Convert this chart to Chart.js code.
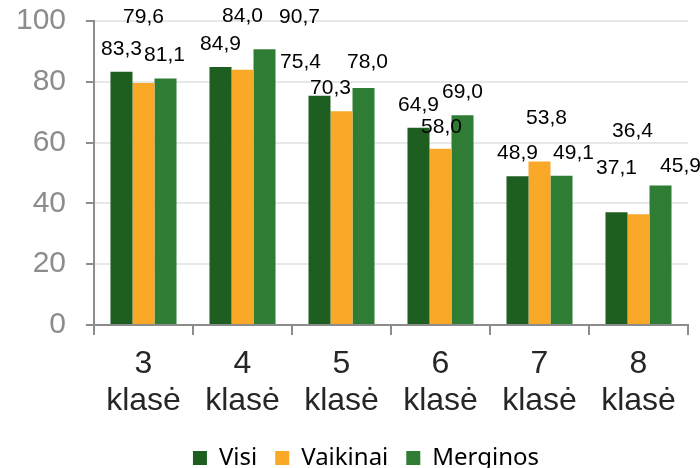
<!DOCTYPE html>
<html>
<head>
<meta charset="utf-8">
<script src="https://cdn.jsdelivr.net/npm/chart.js@4"></script>
<style>
  body { margin: 0; background: #fff; }
  #wrap { width: 700px; height: 468px; }
</style>
</head>
<body>
<div id="wrap"><canvas id="myChart" width="700" height="468"></canvas></div>
<script>
// categories and values
const klases = [['3', 'klasė'], ['4', 'klasė'], ['5', 'klasė'], ['6', 'klasė'], ['7', 'klasė'], ['8', 'klasė']];
const visi = [83.3, 84.9, 75.4, 64.9, 48.9, 37.1];
const vaikinai = [79.6, 84.0, 70.3, 58.0, 53.8, 36.4];
const merginos = [81.1, 90.7, 78.0, 69.0, 49.1, 45.9];
const yTicks = [0, 20, 40, 60, 80, 100];

// labels were moved by hand in the original, so keep those shifts (px) here
const labelShift = [
    [[0, 0], [0, 0], [-19, -11], [0, 0], [0, 0], [0, -21]],
    [[0, -43], [0, -30], [-11, 0], [1, 2], [7, -20], [-6, -60]],
    [[-1, 0], [35, -9], [4, -3], [0, 0], [12, 0], [20, 4]]
];

const valueLabels = {
    id: 'valueLabels',
    afterLayout(chart) {
        // legend sits a bit right of centre in the original
        chart.legend.left += 22;
        chart.legend.right += 22;
    },
    afterDatasetsDraw(chart) {
        const ctx = chart.ctx;
        ctx.save();
        ctx.font = '21px "Liberation Sans", Arial, sans-serif';
        ctx.fillStyle = '#000';
        ctx.textAlign = 'center';
        ctx.textBaseline = 'middle';
        chart.data.datasets.forEach((ds, i) => {
            chart.getDatasetMeta(i).data.forEach((bar, j) => {
                const s = labelShift[i][j];
                const txt = ds.data[j].toFixed(1).replace('.', ',');
                ctx.fillText(txt, bar.x + s[0], bar.y - 23 + s[1]);
            });
        });
        ctx.restore();
    }
};

new Chart(document.getElementById('myChart'), {
    type: 'bar',
    data: {
        labels: klases,
        datasets: [
            { label: 'Visi', data: visi, backgroundColor: '#1e5e21' },
            { label: 'Vaikinai', data: vaikinai, backgroundColor: '#f9a828' },
            { label: 'Merginos', data: merginos, backgroundColor: '#2f7d34' }
        ]
    },
    options: {
        responsive: false,
        animation: false,
        devicePixelRatio: 1,
        categoryPercentage: 0.667,
        barPercentage: 1,
        layout: { padding: { top: 0, right: 12, left: 0, bottom: -12 } },
        plugins: {
            legend: {
                position: 'bottom',
                labels: {
                    font: { size: 24, family: '"Noto Sans", sans-serif' },
                    color: '#000',
                    boxWidth: 14,
                    boxHeight: 14,
                    padding: 18
                }
            },
            tooltip: { enabled: false }
        },
        scales: {
            x: {
                grid: {
                    offset: true,
                    drawOnChartArea: false,
                    color: '#8c8c8c',
                    tickLength: 10,
                    lineWidth: 2
                },
                border: { color: '#8c8c8c', width: 2 },
                ticks: {
                    color: '#262626',
                    font: { size: 32, family: '"Liberation Sans", Arial, sans-serif', lineHeight: 1.15 },
                    padding: 11,
                    maxRotation: 0
                },
                afterFit(scale) { scale.height = 103; }
            },
            y: {
                min: 0,
                max: 100,
                afterBuildTicks(scale) { scale.ticks = yTicks.map(v => ({ value: v })); },
                grid: { color: '#e8e8e8', tickColor: '#8c8c8c', tickLength: 8, lineWidth: 2 },
                border: { color: '#8c8c8c', width: 2 },
                ticks: {
                    color: '#8c8c8c',
                    font: { size: 30, family: '"Liberation Sans", Arial, sans-serif' },
                    padding: 20
                },
                afterFit(scale) {
                    scale.width = 94;
                    scale.paddingTop = 21;
                    scale.paddingBottom = 0;
                }
            }
        }
    },
    plugins: [valueLabels]
});
</script>
</body>
</html>
